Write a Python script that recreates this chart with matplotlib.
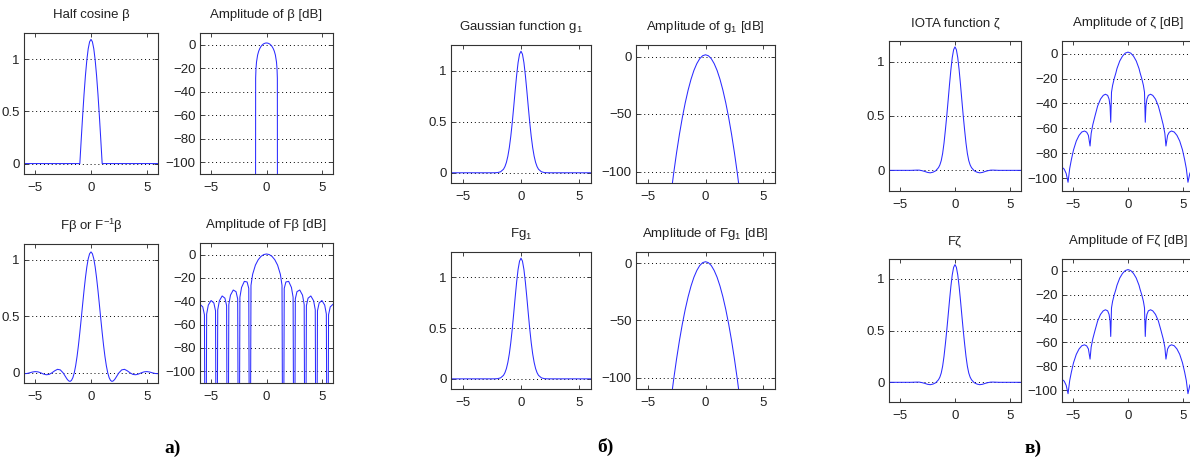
import matplotlib.pyplot as plt
from matplotlib.ticker import FuncFormatter

plt.rcParams['font.family'] = ['Liberation Sans Narrow', 'Liberation Sans', 'DejaVu Sans']
plt.rcParams['mathtext.fontset'] = 'custom'
plt.rcParams['mathtext.rm'] = 'Liberation Sans'
plt.rcParams['mathtext.it'] = 'Liberation Sans'

# ---- а) half cosine ----
x_hc = [-6, -1, -0.875, -0.75, -0.625, -0.5, -0.375, -0.25, -0.125, 0,
        0.125, 0.25, 0.375, 0.5, 0.625, 0.75, 0.875, 1, 6]
half_cos = [0, 0, 0.232, 0.455, 0.661, 0.841, 0.989, 1.099, 1.166, 1.189,
            1.166, 1.099, 0.989, 0.841, 0.661, 0.455, 0.232, 0, 0]

x_hc_db = [-1, -0.98, -0.95, -0.9, -0.8, -0.7, -0.6, -0.5, -0.4, -0.3, -0.2, -0.1, 0,
           0.1, 0.2, 0.3, 0.4, 0.5, 0.6, 0.7, 0.8, 0.9, 0.95, 0.98, 1]
half_cos_db = [-300, -28.5, -20.6, -14.6, -8.69, -5.35, -3.11, -1.50, -0.33, 0.51, 1.07, 1.40, 1.51,
               1.40, 1.07, 0.51, -0.33, -1.50, -3.11, -5.35, -8.69, -14.6, -20.6, -28.5, -300]

x_fb = [-6, -5.75, -5.5, -5.25, -5, -4.75, -4.5, -4.25, -4, -3.75, -3.5, -3.25, -3, -2.75,
        -2.5, -2.375, -2.25, -2.125, -2, -1.875, -1.75, -1.625, -1.5, -1.375, -1.25, -1.125,
        -1, -0.875, -0.75, -0.625, -0.5, -0.375, -0.25, -0.125, 0,
        0.125, 0.25, 0.375, 0.5, 0.625, 0.75, 0.875, 1, 1.125, 1.25, 1.375, 1.5, 1.625,
        1.75, 1.875, 2, 2.125, 2.25, 2.375, 2.5, 2.75, 3, 3.25, 3.5, 3.75, 4, 4.25, 4.5,
        4.75, 5, 5.25, 5.5, 5.75, 6]
f_beta = [-0.0075, -0.006, 0, 0.007, 0.011, 0.0085, 0, -0.011, -0.017, -0.014, 0, 0.018, 0.031, 0.026,
          0, -0.019, -0.039, -0.058, -0.071, -0.076, -0.067, -0.043, 0, 0.062, 0.144, 0.243,
          0.357, 0.479, 0.605, 0.728, 0.840, 0.936, 1.009, 1.054, 1.07,
          1.054, 1.009, 0.936, 0.840, 0.728, 0.605, 0.479, 0.357, 0.243, 0.144, 0.062, 0, -0.043,
          -0.067, -0.076, -0.071, -0.058, -0.039, -0.019, 0, 0.026, 0.031, 0.018, 0, -0.014, -0.017, -0.011, 0,
          0.0085, 0.011, 0.007, 0, -0.006, -0.0075]

x_fb_db = [-6, -5.75, -5.6, -5.5, -5.4, -5.25, -5, -4.75, -4.6, -4.5, -4.4, -4.25, -4, -3.75,
           -3.6, -3.5, -3.4, -3.25, -3, -2.75, -2.6, -2.5, -2.4, -2.25, -2, -1.75, -1.6, -1.5,
           -1.4, -1.25, -1, -0.75, -0.5, -0.25, 0,
           0.25, 0.5, 0.75, 1, 1.25, 1.4, 1.5, 1.6, 1.75, 2, 2.25, 2.4, 2.5, 2.6, 2.75, 3,
           3.25, 3.4, 3.5, 3.6, 3.75, 4, 4.25, 4.4, 4.5, 4.6, 4.75, 5, 5.25, 5.4, 5.5, 5.6,
           5.75, 6]
f_beta_db = [-42.5, -44.8, -51.5, -300, -50.9, -43.2, -39.3, -41.4, -48.1, -300, -47.3, -39.5, -35.4, -37.3,
             -43.7, -300, -42.7, -34.7, -30.3, -31.7, -37.9, -300, -36.5, -28.1, -22.9, -23.4, -28.9, -300,
             -26.3, -16.8, -8.95, -4.36, -1.51, 0.08, 0.59,
             0.08, -1.51, -4.36, -8.95, -16.8, -26.3, -300, -28.9, -23.4, -22.9, -28.1, -36.5, -300, -37.9, -31.7, -30.3,
             -34.7, -42.7, -300, -43.7, -37.3, -35.4, -39.5, -47.3, -300, -48.1, -41.4, -39.3, -43.2, -50.9, -300, -51.5,
             -44.8, -42.5]

# ---- б) Gaussian ----
x_g = [-6, -2.5, -2.25, -2, -1.75, -1.5, -1.375, -1.25, -1.125, -1, -0.875, -0.75, -0.625,
       -0.5, -0.375, -0.25, -0.125, 0, 0.125, 0.25, 0.375, 0.5, 0.625, 0.75, 0.875, 1,
       1.125, 1.25, 1.375, 1.5, 1.75, 2, 2.25, 2.5, 6]
gauss = [0, 0.0001, 0.0004, 0.0022, 0.0097, 0.0347, 0.061, 0.102, 0.163, 0.247, 0.357, 0.491, 0.644,
         0.803, 0.953, 1.078, 1.160, 1.189, 1.160, 1.078, 0.953, 0.803, 0.644, 0.491, 0.357, 0.247,
         0.163, 0.102, 0.061, 0.0347, 0.0097, 0.0022, 0.0004, 0.0001, 0]

x_g_db = [-3, -2.75, -2.5, -2.25, -2, -1.75, -1.5, -1.25, -1, -0.75, -0.5, -0.25, 0,
          0.25, 0.5, 0.75, 1, 1.25, 1.5, 1.75, 2, 2.25, 2.5, 2.75, 3]
gauss_db = [-121.3, -101.7, -83.8, -67.6, -53.1, -40.3, -29.2, -19.8, -12.1, -6.2, -1.9, 0.65, 1.5,
            0.65, -1.9, -6.2, -12.1, -19.8, -29.2, -40.3, -53.1, -67.6, -83.8, -101.7, -121.3]

# ---- в) IOTA ----
x_iota = [-6, -4, -3.5, -3.25, -3, -2.75, -2.5, -2.25, -2, -1.75, -1.5, -1.375, -1.25, -1.125,
          -1, -0.875, -0.75, -0.625, -0.5, -0.375, -0.25, -0.125, 0,
          0.125, 0.25, 0.375, 0.5, 0.625, 0.75, 0.875, 1, 1.125, 1.25, 1.375, 1.5, 1.75,
          2, 2.25, 2.5, 2.75, 3, 3.25, 3.5, 4, 6]
iota = [0, 0, 0.002, 0.002, -0.003, -0.010, -0.019, -0.023, -0.017, -0.004, 0.025, 0.05, 0.09, 0.155,
        0.25, 0.37, 0.50, 0.643, 0.789, 0.925, 1.037, 1.110, 1.136,
        1.110, 1.037, 0.925, 0.789, 0.643, 0.50, 0.37, 0.25, 0.155, 0.09, 0.05, 0.025, -0.004,
        -0.017, -0.023, -0.019, -0.010, -0.003, 0.002, 0.002, 0, 0]

x_iota_db = [-6, -5.8, -5.62, -5.45, -5.3, -5.15, -4.95, -4.7, -4.45, -4.2, -3.95, -3.75, -3.6,
             -3.45, -3.35, -3.2, -3, -2.76, -2.5, -2.25, -2.05, -1.85, -1.72, -1.63, -1.57,
             -1.5, -1.4, -1.25, -1.1, -1, -0.75, -0.5, -0.25, 0,
             0.25, 0.5, 0.75, 1, 1.1, 1.25, 1.4, 1.5, 1.57, 1.63, 1.72, 1.85, 2.05, 2.25, 2.5,
             2.76, 3, 3.2, 3.35, 3.45, 3.6, 3.75, 3.95, 4.2, 4.45, 4.7, 4.95, 5.15, 5.3, 5.45,
             5.62, 5.8, 6]
iota_db = [-91, -92.5, -96, -103, -92, -85, -77, -70, -65.5, -62.8, -62, -63, -65.5,
           -74, -64, -57, -50, -42, -36.5, -33.5, -32.6, -33.5, -36.5, -42, -55,
           -31, -25.5, -20, -15.5, -12, -6, -2.1, 0.3, 1.1,
           0.3, -2.1, -6, -12, -15.5, -20, -25.5, -31, -55, -42, -36.5, -33.5, -32.6, -33.5, -36.5,
           -42, -50, -57, -64, -74, -65.5, -63, -62, -62.8, -65.5, -70, -77, -85, -92, -103,
           -96, -92.5, -91]

W, H = 1190, 459
fig = plt.figure(figsize=(W / 100, H / 100), dpi=100)

fmt = FuncFormatter(lambda v, p: ('%g' % v).replace('-', '\u2212'))


def panel(box, x, y, title, ylim, yticks):
    x0, y0, x1, y1 = box
    ax = fig.add_axes([x0 / W, 1 - y1 / H, (x1 - x0) / W, (y1 - y0) / H])
    ax.plot(x, y, color='#2b2bff', lw=0.75)
    ax.set_xlim(-6, 6)
    ax.set_ylim(*ylim)
    ax.set_xticks([-5, 0, 5])
    ax.set_yticks(yticks)
    ax.xaxis.set_major_formatter(fmt)
    ax.yaxis.set_major_formatter(fmt)
    ax.yaxis.grid(True, ls=(0, (1, 3)), color='k', lw=0.7)
    ax.tick_params(direction='in', top=True, right=True, length=3, width=0.6,
                   labelsize=9.5, colors='#222222')
    ax.tick_params(axis='x', pad=6)
    ax.tick_params(axis='y', pad=3)
    for s in ax.spines.values():
        s.set_color('#333333')
        s.set_linewidth(0.8)
    fig.text((x0 + x1) / 2 / W, 1 - (y0 - 18) / H, title, ha='center', va='center',
             fontsize=9.5, color='#222222')
    return ax


lin_ticks = [0, 0.5, 1]
db_ticks = [-100, -80, -60, -40, -20, 0]

panel((24, 33, 158, 174), x_hc, half_cos, 'Half cosine \u03b2', (-0.1, 1.25), lin_ticks)
panel((200, 33, 333, 174), x_hc_db, half_cos_db, 'Amplitude of \u03b2 [dB]', (-110, 10), db_ticks)
panel((24, 244, 158, 383), x_fb, f_beta, 'F\u03b2 or F$^{-1}$\u03b2', (-0.09, 1.14), lin_ticks)
panel((200, 243, 333, 383), x_fb_db, f_beta_db, 'Amplitude of F\u03b2 [dB]', (-110, 10), db_ticks)

panel((451, 45, 591, 183), x_g, gauss, 'Gaussian function g$_1$', (-0.1, 1.25), lin_ticks)
panel((636, 45, 775, 183), x_g_db, gauss_db, 'Amplitude of g$_1$ [dB]', (-110, 10), [-100, -50, 0])
panel((451, 252, 591, 389), x_g, gauss, 'Fg$_1$', (-0.1, 1.25), lin_ticks)
panel((636, 252, 775, 389), x_g_db, gauss_db, 'Amplitude of Fg$_1$ [dB]', (-110, 10), [-100, -50, 0])

panel((889, 41, 1021, 191), x_iota, iota, 'IOTA function \u03b6', (-0.19, 1.19), lin_ticks)
panel((1062, 41, 1194, 191), x_iota_db, iota_db, 'Amplitude of \u03b6 [dB]', (-110, 10), db_ticks)
panel((889, 259, 1021, 402), x_iota, iota, 'F\u03b6', (-0.19, 1.19), lin_ticks)
panel((1062, 259, 1194, 402), x_iota_db, iota_db, 'Amplitude of F\u03b6 [dB]', (-110, 10), db_ticks)

for label, xc, yc in [('\u0430)', 173, 448), ('\u0431)', 605, 447), ('\u0432)', 1033, 448)]:
    fig.text(xc / W, 1 - yc / H, label, ha='center', va='center', fontsize=14,
             fontweight='bold', family=['Liberation Serif', 'DejaVu Serif'])

fig.savefig('out.png', dpi=100)
